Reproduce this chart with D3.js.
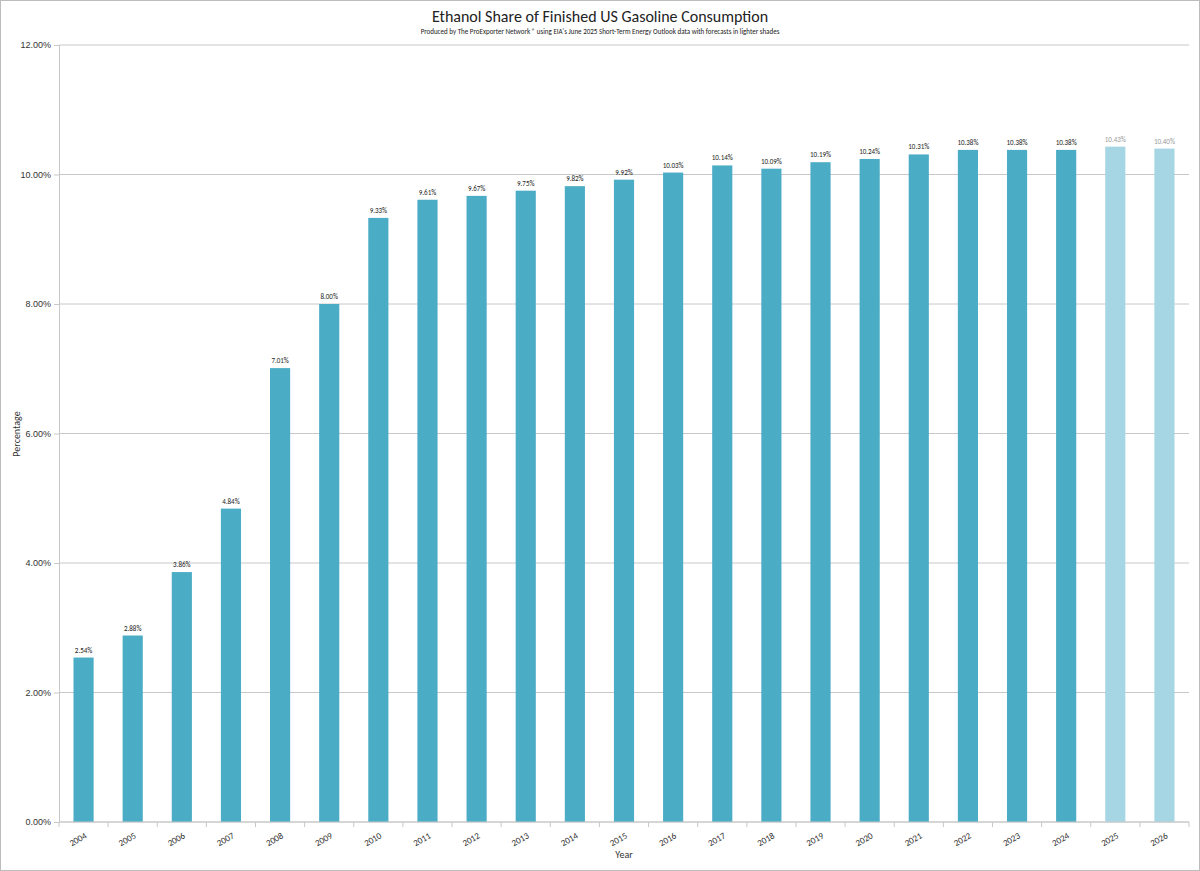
<!DOCTYPE html>
<html><head><meta charset="utf-8">
<script src="https://cdn.jsdelivr.net/npm/d3@7"></script>
<style>body{margin:0;background:#fff;font-family:Carlito,"Liberation Sans Narrow","Open Sans",sans-serif}</style>
</head><body><svg id="chart" width="1200" height="871"></svg>
<script>
var years = ["2004","2005","2006","2007","2008","2009","2010","2011","2012","2013","2014","2015","2016","2017","2018","2019","2020","2021","2022","2023","2024","2025","2026"];
var shares = [2.54,2.88,3.86,4.84,7.01,8.00,9.33,9.61,9.67,9.75,9.82,9.92,10.03,10.14,10.09,10.19,10.24,10.31,10.38,10.38,10.38,10.43,10.40];
var forecastYears = ["2025","2026"];
var yTicks = [0,2,4,6,8,10,12];

var svg = d3.select("#chart");
var margin = {left: 59, right: 11, top: 45, bottom: 49};
var W = 1200, H = 871;

// outer frame
svg.append("rect").attr("x",0.5).attr("y",0.5).attr("width",W-1).attr("height",H-1)
	.attr("fill","none").attr("stroke","#bdbdbd");

var x = d3.scaleBand().domain(years).range([margin.left, W - margin.right]).paddingInner(0.59).paddingOuter(0.295);
var y = d3.scaleLinear().domain([0,12]).range([H - margin.bottom, margin.top]);

// gridlines
svg.append("g").selectAll("line").data(yTicks).join("line")
	.attr("x1", margin.left).attr("x2", W - margin.right)
	.attr("y1", d => y(d)).attr("y2", d => y(d))
	.attr("stroke", "#c8c8c8").attr("stroke-width", 1);

// y axis
var yAxis = svg.append("g").attr("transform","translate(" + margin.left + ",0)")
	.call(d3.axisLeft(y).tickValues(yTicks).tickFormat(d => d.toFixed(2) + "%").tickSize(5));
yAxis.select(".domain").attr("stroke","#c8c8c8");
yAxis.selectAll(".tick line").attr("stroke","#c8c8c8");
yAxis.selectAll("text").attr("font-size",9).attr("fill","#333");

// bars
svg.append("g").selectAll("rect").data(years).join("rect")
	.attr("x", d => x(d)).attr("width", x.bandwidth())
	.attr("y", (d,i) => y(shares[i])).attr("height", (d,i) => y(0) - y(shares[i]))
	.attr("fill", d => forecastYears.includes(d) ? "#a6d6e3" : "#4bacc6");

// value labels
svg.append("g").selectAll("text").data(years).join("text")
	.attr("x", d => x(d) + x.bandwidth()/2).attr("y", (d,i) => y(shares[i]) - 5)
	.attr("text-anchor","middle").attr("font-size",7)
	.attr("fill", d => forecastYears.includes(d) ? "#999" : "#222")
	.text((d,i) => shares[i].toFixed(2) + "%");

// x axis
var x0 = y(0);
svg.append("line").attr("x1",margin.left).attr("x2",W-margin.right).attr("y1",x0).attr("y2",x0).attr("stroke","#c8c8c8");
var step = x.step();
svg.append("g").selectAll("line").data(d3.range(years.length + 1)).join("line")
	.attr("x1", i => margin.left + i*step).attr("x2", i => margin.left + i*step)
	.attr("y1", x0).attr("y2", x0 + 5).attr("stroke","#c8c8c8");
svg.append("g").selectAll("text").data(years).join("text")
	.attr("transform", d => "translate(" + (x(d) + x.bandwidth()/2 - 4) + "," + (x0 + 20) + ") rotate(-30)")
	.attr("text-anchor","middle").attr("font-size",9).attr("fill","#333").text(d => d);

// titles
svg.append("text").attr("x",600).attr("y",22).attr("text-anchor","middle").attr("font-size",16).attr("fill","#222")
	.text("Ethanol Share of Finished US Gasoline Consumption");
svg.append("text").attr("x",600).attr("y",34).attr("text-anchor","middle").attr("font-size",7).attr("fill","#222")
	.text("Produced by The ProExporter Network ® using EIA's June 2025 Short-Term Energy Outlook data with forecasts in lighter shades");
svg.append("text").attr("x",624).attr("y",858).attr("text-anchor","middle").attr("font-size",10).attr("fill","#333").text("Year");
svg.append("text").attr("transform","translate(20,434) rotate(-90)").attr("text-anchor","middle").attr("font-size",10).attr("fill","#333").text("Percentage");
</script></body></html>
